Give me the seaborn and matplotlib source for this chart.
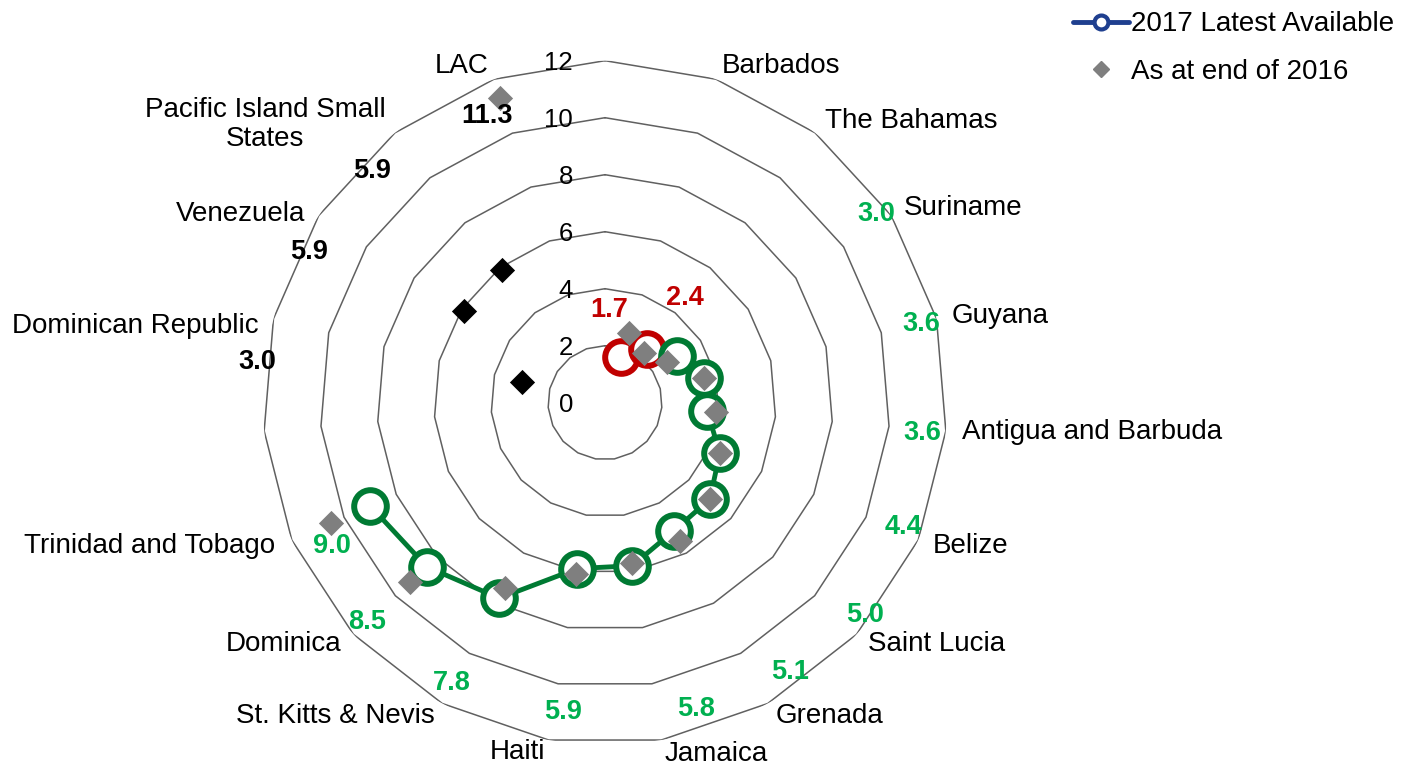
import numpy as np
import matplotlib
matplotlib.use("Agg")
import matplotlib.pyplot as plt
from matplotlib.lines import Line2D
import seaborn as sns
import pandas as pd

sns.set_theme(style="white")
plt.rcParams['font.family'] = ['Liberation Sans', 'DejaVu Sans']
plt.rcParams['text.color'] = 'black'

# ---------------- data ----------------
categories = ["", "Barbados", "The Bahamas", "Suriname", "Guyana", "Antigua and Barbuda",
              "Belize", "Saint Lucia", "Grenada", "Jamaica", "Haiti", "St. Kitts & Nevis",
              "Dominica", "Trinidad and Tobago", "", "Dominican Republic", "Venezuela",
              "Pacific Island Small\nStates", "LAC"]
nan = np.nan
latest_2017 = [nan, 1.7, 2.4, 3.0, 3.6, 3.6, 4.4, 5.0, 5.1, 5.8, 5.9, 7.8, 8.5, 9.0,
               nan, 3.0, 5.9, 5.9, 11.3]
end_2016 = [nan, 2.6, 2.2, 2.6, 3.6, 3.9, 4.4, 5.0, 5.5, 5.7, 6.1, 7.4, 9.3, 10.5,
            nan, nan, nan, nan, nan]
# group of each category for 2017 marks
groups = ["", "red", "red", "green", "green", "green", "green", "green", "green", "green",
          "green", "green", "green", "green", "", "comp", "comp", "comp", "lac"]
value_labels = ["", "1.7", "2.4", "3.0", "3.6", "3.6", "4.4", "5.0", "5.1", "5.8", "5.9",
                "7.8", "8.5", "9.0", "", "3.0", "5.9", "5.9", "11.3"]
tick_values = [0, 2, 4, 6, 8, 10, 12]

# label placement (angle in degrees clockwise from top, radius in data units)
cat_label_deg = [0, 27.6, 47.4, 61.5, 77.6, 93.4, 111.4, 126.0, 144.4, 162.5, 194.0,
                 220.7, 233.1, 252.5, 0, 279.3, 297.4, 309.3, 337.0]
cat_label_r = [0, 13.33, 14.58, 14.30, 14.19, 17.12, 13.76, 14.40, 13.51, 12.93, 12.63,
               14.50, 14.09, 16.75, 0, 16.69, 14.39, 15.42, 12.84]
val_label_deg = [0, 2.5, 37.4, 55.1, 76.0, 95.5, 112.6, 129.2, 145.5, 163.5, 187.7,
                 208.6, 227.3, 242.3, 0, 276.7, 297.0, 314.9, 337.6]
val_label_r = [0, 3.26, 4.62, 11.59, 11.43, 11.17, 11.36, 11.78, 11.46, 11.21, 10.95,
               11.20, 11.36, 10.82, 0, 12.29, 11.66, 11.52, 10.88]

# ---------------- styles ----------------
GREEN = "#007A33"
RED = "#C00000"
LBL_GREEN = "#00B050"
GRID = "#606060"
DIAMOND_GRAY = "#7F7F7F"
LEGEND_BLUE = "#1F3F8F"
label_colors = {"red": RED, "green": LBL_GREEN, "comp": "black", "lac": "black", "": "black"}

n = len(categories)
theta = np.arange(n) * 2 * np.pi / n
df = pd.DataFrame({"theta": theta, "cat": categories, "v2017": latest_2017,
                   "v2016": end_2016, "group": groups})

fig = plt.figure(figsize=(14.02, 7.66), dpi=100)
ax = fig.add_axes([0.18759, 0.02781, 0.48787, 0.89295], projection='polar')
ax.set_theta_zero_location('N')
ax.set_theta_direction(-1)
ax.set_ylim(0, 12)
ax.set_xticks([])
ax.set_yticks([])
ax.grid(False)
ax.spines['polar'].set_visible(False)
ax.set_facecolor('none')

# polygonal grid rings
th_closed = np.append(theta, theta[0])
for lv in tick_values[1:]:
    ax.plot(th_closed, [lv] * len(th_closed), color=GRID, lw=1.1, zorder=1)

# radial tick labels
for lv in tick_values:
    ax.annotate(str(lv), xy=(0, lv), xytext=(-32, -2), textcoords='offset pixels',
                ha='right', va='center', fontsize=18.5, color='black', zorder=2)

# 2017 series: red and green with lines and hollow circles
for grp, col in [("red", RED), ("green", GREEN)]:
    sub = df[df["group"] == grp]
    sns.lineplot(data=sub, x="theta", y="v2017", ax=ax, color=col, lw=3.5, sort=False,
                 marker='o', markersize=23.5, markerfacecolor='white', markeredgecolor=col,
                 markeredgewidth=4.3, zorder=3, legend=False)

# comparators
comp = df[df["group"] == "comp"]
sns.scatterplot(data=comp, x="theta", y="v2017", ax=ax, marker='D', s=165, color='black',
                linewidth=0, zorder=5, legend=False)
lac = df[df["group"] == "lac"]
sns.scatterplot(data=lac, x="theta", y="v2017", ax=ax, marker='D', s=165, color=DIAMOND_GRAY,
                linewidth=0, zorder=5, legend=False)

# 2016 diamonds
sns.scatterplot(data=df, x="theta", y="v2016", ax=ax, marker='D', s=165, color=DIAMOND_GRAY,
                linewidth=0, zorder=6, legend=False)

ax.set_xlabel("")
ax.set_ylabel("")
ax.set_ylim(0, 12)

# category labels
for i, c in enumerate(categories):
    if c == "":
        continue
    ax.text(np.deg2rad(cat_label_deg[i]), cat_label_r[i], c, ha='center', va='center',
            fontsize=20, color='black', linespacing=1.15, multialignment='center')

# value labels
for i, t in enumerate(value_labels):
    if t == "":
        continue
    ax.text(np.deg2rad(val_label_deg[i]), val_label_r[i], t, ha='center', va='center',
            fontsize=19.5, fontweight='bold', color=label_colors[groups[i]], zorder=7)

# legend
handles = [Line2D([0], [0], color=LEGEND_BLUE, lw=3.5, marker='o', markersize=10,
                  markerfacecolor='white', markeredgecolor=LEGEND_BLUE, markeredgewidth=3),
           Line2D([0], [0], color=DIAMOND_GRAY, lw=0, marker='D', markersize=8.5)]
leg = fig.legend(handles, ["2017 Latest Available", "As at end of 2016"], loc='upper left',
                 bbox_to_anchor=(0.7653, 0.985), frameon=False, fontsize=20, handlelength=2.0,
                 handletextpad=0.1, labelspacing=0.78, borderpad=0, borderaxespad=0)
for t in leg.get_texts():
    t.set_color('black')

fig.savefig("out.png", dpi=100)
